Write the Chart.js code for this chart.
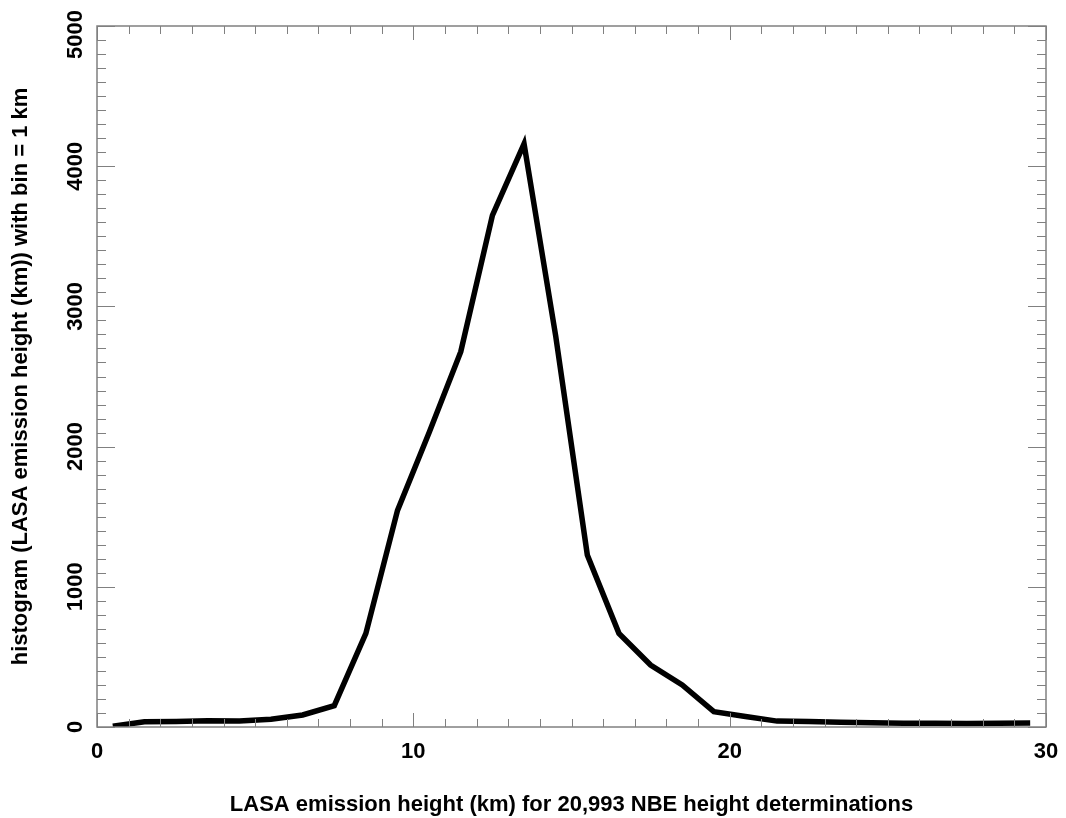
<!DOCTYPE html>
<html>
<head>
<meta charset="utf-8">
<script src="https://cdn.jsdelivr.net/npm/chart.js@4"></script>
<style>
  html, body { margin: 0; padding: 0; background: #fff; }
  #wrap { width: 1066px; height: 818px; }
</style>
</head>
<body>
<div id="wrap"><canvas id="hist"></canvas></div>
<script>
// bin centres (km) and counts per 1 km bin
const binCenters = [0.5, 1.5, 2.5, 3.5, 4.5, 5.5, 6.5, 7.5, 8.5, 9.5,
  10.5, 11.5, 12.5, 13.5, 14.5, 15.5, 16.5, 17.5, 18.5, 19.5,
  20.5, 21.5, 22.5, 23.5, 24.5, 25.5, 26.5, 27.5, 28.5, 29.5];
const counts = [5, 38, 40, 44, 42, 55, 86, 152, 668, 1545,
  2100, 2677, 3650, 4160, 2790, 1227, 668, 442, 300, 109,
  75, 42, 40, 34, 30, 27, 26, 25, 26, 28];
const yTickLabels = [0, 1000, 2000, 3000, 4000, 5000];

const FONT = "'Liberation Sans', Arial, sans-serif";

// frame, inward ticks and rotated y labels
const frameTicks = {
  id: 'frameTicks',
  afterDraw(chart) {
    const { ctx, chartArea: a, scales: { x, y } } = chart;
    ctx.save();
    ctx.strokeStyle = '#808080';
    ctx.lineWidth = 1;
    ctx.beginPath();
    for (let v = 0; v <= 30; v++) {
      const px = Math.round(x.getPixelForValue(v)) + 0.5;
      const len = v % 10 === 0 ? 14 : 8;
      ctx.moveTo(px, a.bottom); ctx.lineTo(px, a.bottom - len);
      ctx.moveTo(px, a.top); ctx.lineTo(px, a.top + len);
    }
    for (let v = 0; v <= 5000; v += 100) {
      const py = Math.round(y.getPixelForValue(v)) + 0.5;
      const len = v % 1000 === 0 ? 18 : 9;
      ctx.moveTo(a.left, py); ctx.lineTo(a.left + len, py);
      ctx.moveTo(a.right, py); ctx.lineTo(a.right - len, py);
    }
    ctx.stroke();
    ctx.lineWidth = 1.5;
    ctx.strokeRect(a.left, a.top, a.right - a.left, a.bottom - a.top);

    ctx.fillStyle = '#000';
    ctx.font = 'bold 22px ' + FONT;
    ctx.textAlign = 'center';
    ctx.textBaseline = 'middle';
    yTickLabels.forEach(v => {
      const w = ctx.measureText(String(v)).width;
      // keep the top label inside the canvas like the original
      const cy = Math.max(y.getPixelForValue(v), 10 + w / 2);
      ctx.save();
      ctx.translate(75, cy);
      ctx.rotate(-Math.PI / 2);
      ctx.fillText(String(v), 0, 1);
      ctx.restore();
    });
    ctx.restore();
  }
};

new Chart(document.getElementById('hist'), {
  type: 'line',
  data: {
    datasets: [{
      data: binCenters.map((c, i) => ({ x: c, y: counts[i] })),
      borderColor: '#000',
      borderWidth: 5.5,
      borderJoinStyle: 'miter',
      pointRadius: 0,
      tension: 0,
      fill: false
    }]
  },
  options: {
    responsive: true,
    maintainAspectRatio: false,
    animation: false,
    layout: { padding: { top: 26, right: 20, left: 0, bottom: 0 } },
    plugins: { legend: { display: false }, tooltip: { enabled: false } },
    scales: {
      x: {
        type: 'linear',
        min: 0,
        max: 30,
        afterFit(scale) {
          scale.height = 91;
          scale.paddingLeft = 0;
          scale.paddingRight = 0;
        },
        ticks: {
          stepSize: 10,
          color: '#000',
          padding: 12,
          maxRotation: 0,
          font: { family: FONT, size: 22, weight: 'bold' }
        },
        grid: { display: false, drawTicks: false },
        border: { display: false },
        title: {
          display: true,
          text: 'LASA emission height (km) for 20,993 NBE height determinations',
          color: '#000',
          padding: { top: 0, bottom: 0 },
          font: { family: FONT, size: 22, weight: 'bold' }
        }
      },
      y: {
        min: 0,
        max: 5000,
        afterFit(scale) { scale.width = 97; },
        ticks: { display: false, stepSize: 1000 },
        grid: { display: false, drawTicks: false },
        border: { display: false },
        title: {
          display: true,
          text: 'histogram (LASA emission height (km)) with bin = 1 km',
          color: '#000',
          padding: { top: 8, bottom: 0 },
          font: { family: FONT, size: 22, weight: 'bold' }
        }
      }
    }
  },
  plugins: [frameTicks]
});
</script>
</body>
</html>
